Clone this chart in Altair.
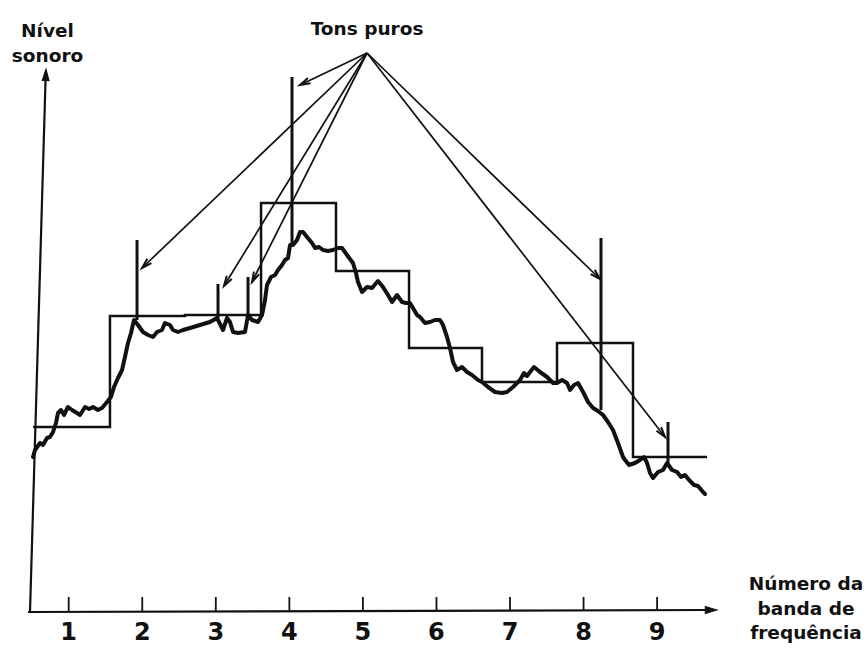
import math

import altair as alt
import pandas as pd

# ---------------------------------------------------------------------------
# Data
# ---------------------------------------------------------------------------
# Frequency band numbers shown on the horizontal axis
band_numbers = [1, 2, 3, 4, 5, 6, 7, 8, 9]

# Band edges (band-number units) and the overall level measured in each band
band_edges = [0.515, 1.561, 2.581, 3.615, 4.634, 5.627, 6.619, 7.639, 8.672, 9.678]
band_levels = [18.5, 29.6, 29.7, 40.9, 34.1, 26.4, 23.0, 26.9, 15.5]

# Narrow-band spectrum (broadband noise)
curve_x = [
    0.515, 0.542, 0.610, 0.651, 0.705, 0.746, 0.787, 0.827, 0.855, 0.895,
    0.936, 0.990, 1.045, 1.113, 1.154, 1.222, 1.276, 1.330, 1.398, 1.453,
    1.521, 1.575, 1.616, 1.670, 1.725, 1.765, 1.806, 1.847, 1.888, 1.942,
    2.010, 2.078, 2.146, 2.201, 2.268, 2.309, 2.377, 2.418, 2.486, 2.554,
    2.649, 2.785, 2.921, 3.016, 3.044, 3.098, 3.152, 3.193, 3.234, 3.302,
    3.397, 3.438, 3.492, 3.574, 3.628, 3.669, 3.696, 3.751, 3.805, 3.846,
    3.900, 3.941, 3.982, 4.009, 4.050, 4.104, 4.145, 4.186, 4.240, 4.308,
    4.349, 4.403, 4.458, 4.525, 4.593, 4.661, 4.716, 4.784, 4.865, 4.906,
    4.933, 4.988, 5.056, 5.124, 5.205, 5.273, 5.341, 5.396, 5.464, 5.532,
    5.586, 5.640, 5.681, 5.736, 5.776, 5.844, 5.912, 5.980, 6.048, 6.089,
    6.143, 6.184, 6.225, 6.279, 6.347, 6.415, 6.483, 6.565, 6.619, 6.701,
    6.796, 6.891, 6.959, 7.041, 7.136, 7.190, 7.231, 7.272, 7.326, 7.408,
    7.503, 7.585, 7.639, 7.707, 7.775, 7.816, 7.870, 7.925, 7.993, 8.061,
    8.129, 8.196, 8.264, 8.332, 8.400, 8.468, 8.536, 8.564, 8.618, 8.699,
    8.767, 8.822, 8.863, 8.903, 8.944, 9.012, 9.080, 9.135, 9.203, 9.271,
    9.325, 9.379, 9.434, 9.502, 9.556, 9.624, 9.651,
]
curve_level = [
    15.5, 16.2, 16.9, 16.7, 17.4, 17.5, 18.0, 18.9, 19.9, 20.2,
    19.7, 20.5, 20.2, 19.9, 19.7, 20.5, 20.3, 20.5, 20.2, 20.4,
    21.0, 21.5, 22.5, 23.4, 24.2, 25.5, 26.9, 27.9, 29.2, 28.7,
    28.0, 27.7, 27.5, 28.0, 28.2, 28.9, 28.7, 28.2, 28.0, 28.2,
    28.4, 28.7, 29.0, 29.4, 29.0, 28.2, 29.4, 29.0, 28.0, 27.9,
    28.0, 29.7, 29.2, 29.0, 29.7, 31.2, 32.7, 33.5, 33.7, 34.2,
    34.7, 35.2, 35.4, 36.7, 36.7, 37.2, 38.0, 38.0, 37.5, 36.9,
    36.4, 36.5, 36.2, 36.1, 36.2, 36.4, 36.4, 35.7, 34.9, 33.9,
    33.0, 32.0, 32.5, 32.4, 33.1, 32.5, 31.7, 31.0, 31.7, 31.0,
    30.9, 30.9, 30.4, 29.7, 29.5, 28.9, 29.0, 29.2, 29.2, 28.7,
    27.5, 26.4, 25.0, 24.2, 24.5, 24.0, 23.7, 23.2, 23.0, 22.5,
    22.0, 21.9, 22.0, 22.5, 23.2, 23.9, 23.6, 24.0, 24.5, 24.0,
    23.5, 22.9, 22.9, 23.2, 22.9, 22.2, 22.7, 22.9, 22.0, 21.0,
    20.4, 20.1, 19.7, 19.0, 18.2, 16.9, 15.5, 15.2, 14.7, 14.9,
    15.2, 15.5, 14.9, 13.9, 13.4, 14.0, 14.2, 14.9, 14.2, 14.0,
    13.5, 13.7, 13.2, 12.7, 12.6, 12.0, 11.8,
]

# Pure tones: position, level where they leave the spectrum, peak level
tone_x = [1.929, 3.030, 3.438, 4.036, 8.237, 9.148]
tone_base = [29.2, 29.4, 29.7, 36.7, 20.2, 14.9]
tone_top = [37.2, 32.8, 33.5, 53.5, 37.4, 19.0]

# Annotation: label anchor and the point each arrow lands on
label_x, label_level = 5.056, 55.9
arrow_tip_x = [1.997, 3.111, 3.492, 4.145, 8.223, 9.107]
arrow_tip_level = [34.4, 32.6, 33.0, 52.7, 33.3, 17.5]

# ---------------------------------------------------------------------------
# Scales (the plot area fills the whole canvas; axes are drawn as marks)
# ---------------------------------------------------------------------------
W, H = 868, 653
X_DOM = [0.066, 11.867]
Y_DOM = [-4.1, 61.2]
xs = alt.Scale(domain=X_DOM, nice=False, zero=False)
ys = alt.Scale(domain=Y_DOM, nice=False, zero=False)
FONT = "DejaVu Sans"
INK = "#111111"


def to_px(b):
    return (b - X_DOM[0]) / (X_DOM[1] - X_DOM[0]) * W


def to_py(v):
    return (Y_DOM[1] - v) / (Y_DOM[1] - Y_DOM[0]) * H


def heading(x0, y0, x1, y1):
    """Screen angle (degrees, clockwise from up) of the segment 0 -> 1."""
    dx = to_px(x1) - to_px(x0)
    dy = to_py(y1) - to_py(y0)
    return math.degrees(math.atan2(dx, -dy)) % 360


def X(field="x"):
    return alt.X(f"{field}:Q", scale=xs, axis=None)


def Y(field="y"):
    return alt.Y(f"{field}:Q", scale=ys, axis=None)


V_HEAD = "M -0.42 1.45 L 0 0 L 0.42 1.45"
SOLID_HEAD = "M -0.5 1.7 L 0 0 L 0.5 1.7 Z"

# ---------------------------------------------------------------------------
# Marks
# ---------------------------------------------------------------------------
steps = pd.DataFrame({"x": band_edges, "y": band_levels + [band_levels[-1]]})
step_line = alt.Chart(steps).mark_line(
    interpolate="step-after", color=INK, strokeWidth=2.5
).encode(x=X(), y=Y())

spectrum = pd.DataFrame({"x": curve_x, "y": curve_level, "i": range(len(curve_x))})
spectrum_line = alt.Chart(spectrum).mark_line(
    color=INK, strokeWidth=4, strokeJoin="round", strokeCap="round"
).encode(x=X(), y=Y(), order="i:Q")

tones = pd.DataFrame({"x": tone_x, "y": tone_base, "y2": tone_top})
tone_rules = alt.Chart(tones).mark_rule(color=INK, strokeWidth=3).encode(
    x=X(), y=Y(), y2="y2:Q"
)

arrows = pd.DataFrame({
    "x": [label_x] * len(arrow_tip_x),
    "y": [label_level] * len(arrow_tip_x),
    "x2": arrow_tip_x,
    "y2": arrow_tip_level,
})
arrows["angle"] = [
    heading(label_x, label_level, tx, ty) for tx, ty in zip(arrow_tip_x, arrow_tip_level)
]
arrow_shafts = alt.Chart(arrows).mark_rule(color=INK, strokeWidth=1.7).encode(
    x=X(), y=Y(), x2="x2:Q", y2="y2:Q"
)
arrow_heads = alt.Chart(arrows).mark_point(
    shape=V_HEAD, filled=False, stroke=INK, strokeWidth=2, size=196, opacity=1
).encode(x=X("x2"), y=Y("y2"), angle=alt.Angle("angle:Q", scale=None))

# Axes with arrowheads
axis_lines = pd.DataFrame({
    "x": [0.447, 0.474],
    "y": [0.0, 0.0],
    "x2": [9.70, 0.686],
    "y2": [0.2, 53.4],
})
axis_rules = alt.Chart(axis_lines).mark_rule(color=INK, strokeWidth=2.2).encode(
    x=X(), y=Y(), x2="x2:Q", y2="y2:Q"
)
axis_tips = pd.DataFrame({"x": [9.814, 0.691], "y": [0.2, 54.3]})
axis_tips["angle"] = [heading(0.447, 0.0, 9.814, 0.2), heading(0.474, 0.0, 0.691, 54.3)]
axis_heads = alt.Chart(axis_tips).mark_point(
    shape=SOLID_HEAD, filled=True, fill=INK, stroke=INK, strokeWidth=1, size=190, opacity=1
).encode(x=X(), y=Y(), angle=alt.Angle("angle:Q", scale=None))

ticks = pd.DataFrame({"x": band_numbers, "y": [0.1] * 9, "y2": [1.5] * 9})
tick_rules = alt.Chart(ticks).mark_rule(color=INK, strokeWidth=1.8).encode(
    x=X(), y=Y(), y2="y2:Q"
)
tick_labels = alt.Chart(
    pd.DataFrame({"x": band_numbers, "y": [-2.8] * 9, "t": [str(n) for n in band_numbers]})
).mark_text(
    font=FONT, fontSize=24, fontWeight="bold", color=INK, align="center", baseline="alphabetic"
).encode(x=X(), y=Y(), text="t:N")

# Titles and annotation label
texts = pd.DataFrame({
    "x": [0.712, 0.712, label_x, 11.024, 11.024, 11.024],
    "y": [57.5, 55.0, 57.7, 2.2, -0.3, -2.7],
    "t": ["Nível", "sonoro", "Tons puros", "Número da", "banda de", "frequência"],
})
text_marks = alt.Chart(texts).mark_text(
    font=FONT, fontSize=18.5, fontWeight="bold", color=INK, align="center", baseline="alphabetic"
).encode(x=X(), y=Y(), text="t:N")

chart = alt.layer(
    step_line,
    spectrum_line,
    tone_rules,
    arrow_shafts,
    arrow_heads,
    axis_rules,
    axis_heads,
    tick_rules,
    tick_labels,
    text_marks,
).properties(
    width=W,
    height=H,
    padding=0,
    autosize=alt.AutoSizeParams(type="none"),
    background="white",
).configure_view(stroke=None)

chart.save("out.html", embed_options={"renderer": "svg", "actions": False})
